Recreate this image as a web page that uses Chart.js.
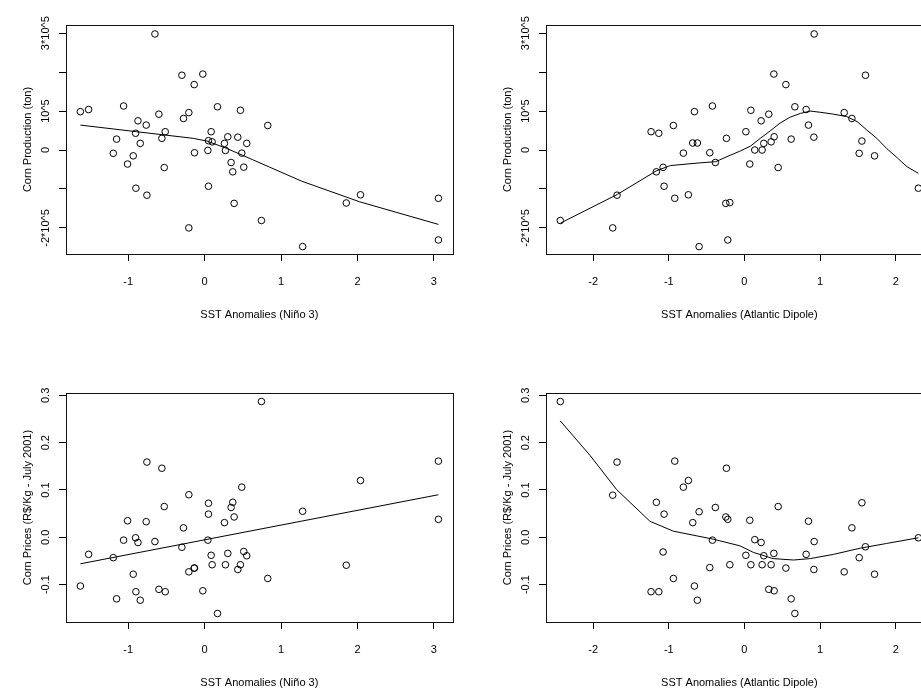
<!DOCTYPE html>
<html lang="en">
<head>
  <meta charset="UTF-8">
  <title>Corn production and prices vs SST anomalies</title>
  <script src="https://cdn.jsdelivr.net/npm/chart.js@4"></script>
  <style>
    html, body { margin: 0; padding: 0; overflow: hidden; background: #fff; }
    body { position: relative; width: 921px; height: 688px; }
    canvas { position: absolute; }
  </style>
</head>
<body>
  <canvas id="prodNino" width="460" height="344" style="left:0;top:0"></canvas>
  <canvas id="prodAtl" width="460" height="344" style="left:480px;top:0"></canvas>
  <canvas id="priceNino" width="460" height="344" style="left:0;top:368px"></canvas>
  <canvas id="priceAtl" width="460" height="344" style="left:480px;top:368px"></canvas>

  <script>
    // observations sorted by Nino 3 anomaly
    const nino3 = [-1.627, -1.519, -1.196, -1.153, -1.061, -1.009, -0.935, -0.904, -0.900, -0.873,
      -0.843, -0.765, -0.756, -0.651, -0.599, -0.560, -0.529, -0.516, -0.298, -0.277,
      -0.207, -0.207, -0.137, -0.133, -0.024, 0.042, 0.050, 0.050, 0.085, 0.098,
      0.168, 0.259, 0.272, 0.303, 0.346, 0.368, 0.386, 0.434, 0.468, 0.486,
      0.512, 0.551, 0.743, 0.826, 1.283, 1.854, 2.040, 3.060, 3.060];
    const prodNino = [98500, 104000, -8500, 28000, 113000, -36000, -15000, 43000, -98000, 75000,
      17000, 64000, -116000, 298000, 92000, 30000, -45000, 47000, 192000, 81000,
      96000, -200000, 168000, -7000, 195000, -1000, 24000, -93000, 47000, 21000,
      111000, 17000, -1000, 34000, -32000, -56000, -137000, 33000, 102000, -8000,
      -44000, 17000, -181000, 63000, -248000, -136000, -115000, -124000, -231000];
    const priceNino = [-0.103, -0.036, -0.043, -0.130, -0.006, 0.035, -0.078, -0.001, -0.115, -0.011,
      -0.133, 0.033, 0.159, -0.009, -0.110, 0.146, 0.065, -0.115, -0.021, 0.020,
      0.090, -0.073, -0.065, -0.065, -0.113, -0.006, 0.072, 0.049, -0.038, -0.058,
      -0.161, 0.031, -0.058, -0.034, 0.063, 0.074, 0.043, -0.068, -0.058, 0.106,
      -0.030, -0.039, 0.287, -0.087, 0.055, -0.059, 0.120, 0.161, 0.038];

    // observations sorted by Atlantic dipole anomaly
    const atlantic = [-2.434, -1.741, -1.684, -1.234, -1.164, -1.132, -1.075, -1.062, -0.939, -0.921,
      -0.807, -0.741, -0.683, -0.661, -0.622, -0.599, -0.458, -0.423, -0.384, -0.246,
      -0.238, -0.220, -0.193, 0.019, 0.071, 0.085, 0.137, 0.221, 0.234, 0.256,
      0.322, 0.353, 0.389, 0.393, 0.446, 0.548, 0.618, 0.667, 0.816, 0.847,
      0.918, 0.922, 1.319, 1.421, 1.517, 1.553, 1.600, 1.720, 2.300];
    const prodAtl = [-181000, -200000, -116000, 47000, -56000, 43000, -44500, -93000, 63000, -124000,
      -8000, -115000, 18000, 98500, 18000, -248000, -7000, 113000, -32000, -137000,
      30000, -231000, -135000, 47000, -36000, 102000, 0, 75000, 0, 17000,
      92000, 21000, 195000, 34000, -45000, 168000, 28000, 111000, 104000, 64000,
      33000, 298000, 96000, 81000, -8500, 23000, 192000, -15000, -98000];
    const priceAtl = [0.287, 0.089, 0.159, -0.115, 0.074, -0.115, -0.031, 0.049, -0.087, 0.161,
      0.106, 0.120, 0.031, -0.103, -0.133, 0.054, -0.064, -0.006, 0.063, 0.043,
      0.146, 0.038, -0.058, -0.038, 0.036, -0.058, -0.005, -0.011, -0.058, -0.039,
      -0.110, -0.058, -0.034, -0.113, 0.065, -0.065, -0.130, -0.161, -0.036, 0.034,
      -0.068, -0.009, -0.073, 0.020, -0.043, 0.073, -0.020, -0.078, -0.001];

    // fitted curves
    const fitProdNinoX = [-1.627, -0.89, -0.15, 0.03, 0.29, 0.63, 1.27, 2.03, 3.06];
    const fitProdNinoY = [64000, 47000, 30000, 23000, 4000, -25000, -80000, -133000, -191000];
    const fitPriceNinoX = [-1.627, 3.06];
    const fitPriceNinoY = [-0.056, 0.090];
    const fitProdAtlX = [-2.434, -1.68, -1.16, -0.98, -0.59, -0.38, -0.23, -0.06, 0.08, 0.21, 0.34, 0.47, 0.60,
      0.74, 0.87, 1.00, 1.18, 1.35, 1.49, 1.62, 1.75, 1.88, 2.02, 2.15, 2.30];
    const fitProdAtlY = [-188000, -114000, -53000, -40000, -33000, -30000, -17000, -3000, 10000, 30000, 49000, 69000, 84000,
      94000, 100000, 97000, 92000, 86000, 73000, 51000, 30000, 4000, -20000, -43000, -60000];
    const fitPriceAtlX = [-2.434, -2.04, -1.69, -1.25, -0.94, -0.41, -0.06, 0.12, 0.38, 0.65, 0.87, 1.18, 1.53, 1.88, 2.30];
    const fitPriceAtlY = [0.246, 0.173, 0.101, 0.034, 0.013, -0.004, -0.018, -0.032, -0.045, -0.048, -0.045, -0.036, -0.023, -0.013, -0.001];

    // axes
    const ninoTicks = [-1, 0, 1, 2, 3];
    const atlTicks = [-2, -1, 0, 1, 2];
    const prodTicks = [-200000, -100000, 0, 100000, 200000, 300000];
    const prodTickLabels = ['-2*10^5', '', '0', '10^5', '', '3*10^5'];
    const priceTicks = [-0.1, 0, 0.1, 0.2, 0.3];
    const priceTickLabels = ['-0.1', '0.0', '0.1', '0.2', '0.3'];
    const ninoRange = [-1.815, 3.247];
    const atlRange = [-2.623, 2.489];
    const prodRange = [-267000, 321000];
    const priceRange = [-0.179, 0.305];

    const FONT = { family: "'Liberation Sans', Arial, sans-serif", size: 11 };

    // R-style box around the plot region
    const boxPlugin = {
      id: 'box',
      afterDraw(chart) {
        const a = chart.chartArea, ctx = chart.ctx;
        ctx.save();
        ctx.strokeStyle = '#111';
        ctx.lineWidth = 1;
        ctx.strokeRect(Math.round(a.left) + 0.5, Math.round(a.top) + 0.5,
          Math.round(a.right - a.left), Math.round(a.bottom - a.top));
        ctx.restore();
      }
    };

    function pairs(xs, ys) {
      return xs.map((x, i) => ({ x: x, y: ys[i] }));
    }

    function panel(id, o) {
      new Chart(document.getElementById(id), {
        type: 'scatter',
        data: {
          datasets: [
            {
              data: pairs(o.x, o.y),
              pointStyle: 'circle',
              pointRadius: 3.3,
              borderWidth: 1,
              borderColor: '#000',
              backgroundColor: 'rgba(0,0,0,0)'
            },
            {
              data: pairs(o.fitX, o.fitY),
              showLine: true,
              borderColor: '#000',
              borderWidth: 1,
              pointRadius: 0,
              tension: 0
            }
          ]
        },
        options: {
          responsive: false,
          animation: false,
          devicePixelRatio: 1,
          layout: { padding: { top: 25, right: 7.3, bottom: 0, left: 0 } },
          plugins: { legend: { display: false }, tooltip: { enabled: false } },
          scales: {
            x: {
              type: 'linear',
              min: o.xRange[0],
              max: o.xRange[1],
              afterBuildTicks: s => { s.ticks = o.xTicks.map(v => ({ value: v })); },
              afterFit: s => { s.height = 90; },
              grid: { drawOnChartArea: false, drawTicks: true, tickLength: 7, color: '#000' },
              border: { display: false },
              ticks: {
                autoSkip: false, maxRotation: 0, color: '#000', font: FONT, padding: 14.8,
                callback: (v, i) => String(o.xTicks[i])
              },
              title: { display: true, text: o.xTitle, color: '#000', font: FONT, padding: { top: 0, bottom: 22.4 } }
            },
            y: {
              type: 'linear',
              min: o.yRange[0],
              max: o.yRange[1],
              afterBuildTicks: s => { s.ticks = o.yTicks.map(v => ({ value: v })); },
              afterFit: s => { s.width = 66; },
              grid: { drawOnChartArea: false, drawTicks: true, tickLength: 7, color: '#000' },
              border: { display: false },
              ticks: {
                autoSkip: false, minRotation: 90, maxRotation: 90, crossAlign: 'center',
                color: '#000', font: FONT, padding: o.yPad,
                callback: (v, i) => o.yLabels[i]
              },
              title: { display: true, text: o.yTitle, color: '#000', font: FONT, padding: { top: 21.4, bottom: 0 } }
            }
          }
        },
        plugins: [boxPlugin]
      });
    }

    panel('prodNino', {
      x: nino3, y: prodNino, fitX: fitProdNinoX, fitY: fitProdNinoY,
      xRange: ninoRange, yRange: prodRange, xTicks: ninoTicks,
      yTicks: prodTicks, yLabels: prodTickLabels, yPad: -5.8,
      xTitle: 'SST Anomalies (Niño 3)', yTitle: 'Corn Production (ton)'
    });
    panel('prodAtl', {
      x: atlantic, y: prodAtl, fitX: fitProdAtlX, fitY: fitProdAtlY,
      xRange: atlRange, yRange: prodRange, xTicks: atlTicks,
      yTicks: prodTicks, yLabels: prodTickLabels, yPad: -5.8,
      xTitle: 'SST Anomalies (Atlantic Dipole)', yTitle: 'Corn Production (ton)'
    });
    panel('priceNino', {
      x: nino3, y: priceNino, fitX: fitPriceNinoX, fitY: fitPriceNinoY,
      xRange: ninoRange, yRange: priceRange, xTicks: ninoTicks,
      yTicks: priceTicks, yLabels: priceTickLabels, yPad: 3.5,
      xTitle: 'SST Anomalies (Niño 3)', yTitle: 'Corn Prices (R$/Kg - July 2001)'
    });
    panel('priceAtl', {
      x: atlantic, y: priceAtl, fitX: fitPriceAtlX, fitY: fitPriceAtlY,
      xRange: atlRange, yRange: priceRange, xTicks: atlTicks,
      yTicks: priceTicks, yLabels: priceTickLabels, yPad: 3.5,
      xTitle: 'SST Anomalies (Atlantic Dipole)', yTitle: 'Corn Prices (R$/Kg - July 2001)'
    });
  </script>
</body>
</html>
